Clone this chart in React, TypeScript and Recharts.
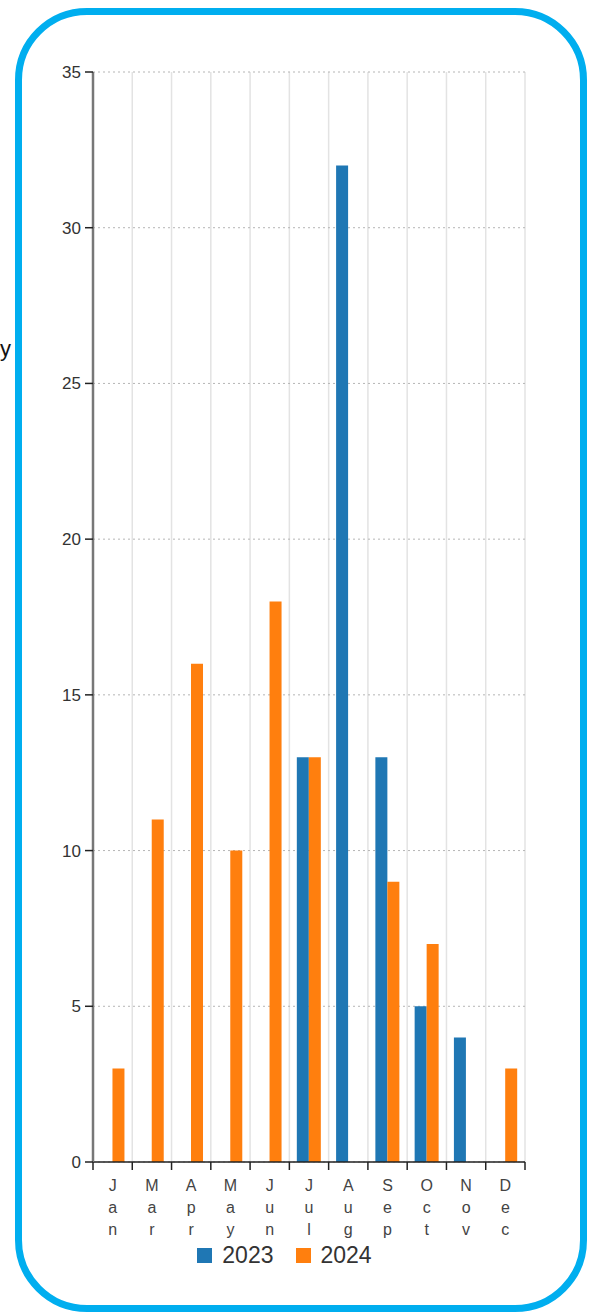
import React from "react";
import { BarChart, Bar, XAxis, YAxis, CartesianGrid, Legend } from "recharts";

const months = ["Jan", "Mar", "Apr", "May", "Jun", "Jul", "Aug", "Sep", "Oct", "Nov", "Dec"];
const y2023 = [0, 0, 0, 0, 0, 13, 32, 13, 5, 4, 0];
const y2024 = [3, 11, 16, 10, 18, 13, 0, 9, 7, 0, 3];
const yTicks = [0, 5, 10, 15, 20, 25, 30, 35];

const BLUE = "#1f77b4";
const ORANGE = "#ff7f0e";
const FONT = "'Liberation Sans', Arial, sans-serif";

const data = months.map((m, i) => ({ month: m, "2023": y2023[i], "2024": y2024[i] }));

const TICK_SIZE = 8;
const TICK_MARGIN = 10;

function MonthTick(props: any) {
  const { x, y, payload, width, index } = props;
  const half = payload?.offset || width / (2 * months.length);
  const axisY = y - TICK_SIZE - TICK_MARGIN;
  const letters = String(payload.value).split("");
  const last = index === months.length - 1;
  return (
    <g>
      <line x1={x - half} x2={x - half} y1={axisY} y2={axisY + TICK_SIZE} stroke="#222" strokeWidth={1.5} />
      {last && <line x1={x + half} x2={x + half} y1={axisY} y2={axisY + TICK_SIZE} stroke="#222" strokeWidth={1.5} />}
      <text x={x} y={y} textAnchor="middle" fill="#444" fontSize={16} fontFamily={FONT}>
        {letters.map((c, i) => (
          <tspan key={i} x={x} dy={i === 0 ? "0.71em" : 22}>
            {c}
          </tspan>
        ))}
      </text>
    </g>
  );
}

function LegendBox(props: any) {
  const items = props.payload || [];
  return (
    <div
      style={{
        display: "flex",
        justifyContent: "center",
        alignItems: "center",
        gap: 22,
        transform: "translateX(22px)",
      }}
    >
      {items.map((it: any) => (
        <div key={it.value} style={{ display: "flex", alignItems: "center", gap: 10 }}>
          <span style={{ display: "inline-block", width: 15, height: 15, background: it.color }} />
          <span style={{ fontSize: 23, color: "#333", fontFamily: FONT }}>{it.value}</span>
        </div>
      ))}
    </div>
  );
}

export default function App() {
  const gridX = (args: any) => {
    const { offset } = args;
    const step = offset.width / months.length;
    return months.map((_, i) => offset.left + i * step).concat(offset.left + offset.width);
  };

  return (
    <div style={{ position: "absolute", left: 0, top: 0, width: 592, height: 1316, background: "#fff", fontFamily: FONT }}>
      <div style={{ position: "absolute", left: 0, top: 336, fontSize: 22, color: "#111", fontFamily: FONT }}>y</div>
      <div style={{ position: "absolute", left: 0, top: 0 }}>
        <BarChart
          width={592}
          height={1316}
          data={data}
          margin={{ top: 72, right: 67, left: 0, bottom: 42 }}
          barCategoryGap="19%"
          barGap={0}
        >
          <CartesianGrid horizontal={false} stroke="#e3e3e3" strokeWidth={1.5} verticalCoordinatesGenerator={gridX} />
          <CartesianGrid vertical={false} stroke="#b5b5b5" strokeDasharray="2 3" />
          <XAxis
            dataKey="month"
            interval={0}
            tick={<MonthTick />}
            tickLine={{ stroke: "none" }}
            tickSize={TICK_SIZE}
            tickMargin={TICK_MARGIN}
            axisLine={{ stroke: "#222", strokeWidth: 1.5 }}
            height={80}
          />
          <YAxis
            width={93}
            domain={[0, 35]}
            ticks={yTicks}
            interval={0}
            tickSize={TICK_SIZE}
            tickMargin={4}
            tick={{ fill: "#333", fontSize: 17, fontFamily: FONT }}
            tickLine={{ stroke: "#222", strokeWidth: 1.5 }}
            axisLine={{ stroke: "#777", strokeWidth: 2.5 }}
          />
          <Legend verticalAlign="bottom" height={32} content={<LegendBox />} />
          <Bar dataKey="2023" fill={BLUE} isAnimationActive={false} />
          <Bar dataKey="2024" fill={ORANGE} isAnimationActive={false} />
        </BarChart>
      </div>
      <div
        style={{
          position: "absolute",
          left: 15,
          top: 8,
          width: 572,
          height: 1304,
          boxSizing: "border-box",
          border: "7px solid #00aeef",
          borderRadius: 72,
          pointerEvents: "none",
        }}
      />
    </div>
  );
}
